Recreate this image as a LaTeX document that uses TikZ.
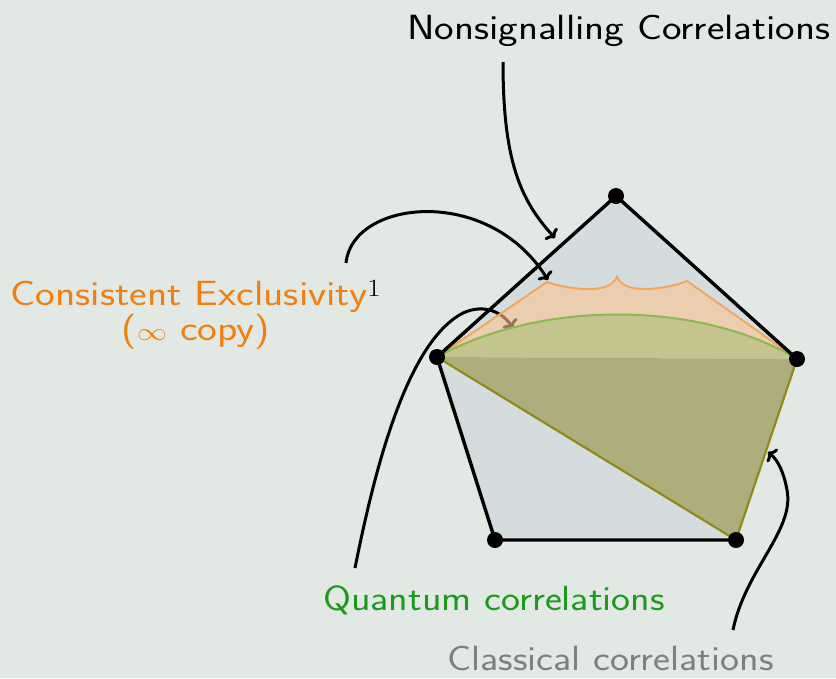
\documentclass[tikz,border=0pt]{standalone}
\usepackage{fontspec}
\usetikzlibrary{arrows.meta}
\definecolor{bg}{HTML}{E2E8E4}
\definecolor{pentfill}{HTML}{D5DCDD}
\definecolor{orfill}{RGB}{251,197,146}
\definecolor{orline}{HTML}{F0A860}
\definecolor{segfill}{HTML}{C4C48E}
\definecolor{trifill}{HTML}{B0AD7D}
\definecolor{triline}{HTML}{8E8A1C}
\definecolor{grline}{HTML}{8CB850}
\definecolor{ortext}{HTML}{F07F10}
\definecolor{grtext}{HTML}{1C9A1C}
\definecolor{gytext}{HTML}{7F7F7F}
\tikzset{
  lbl/.style={font=\sffamily\fontsize{35}{28}\selectfont, inner sep=0pt, anchor=base west},
  arr/.style={line width=3pt, -{To[length=7pt,width=17pt]}},
  edge/.style={line width=3.4pt, line join=round},
  vdot/.style={circle, fill=black, inner sep=0pt, minimum size=16pt}
}
\begin{document}
\begin{tikzpicture}[x=1pt,y=-1pt]
\useasboundingbox (0,0) rectangle (836,678);
\fill[bg] (0,0) rectangle (836,678);
% vertices
\coordinate (T) at (616,196);
\coordinate (L) at (437,357);
\coordinate (R) at (797,359);
\coordinate (BL) at (495,540);
\coordinate (BR) at (736,540);
\coordinate (P1) at (547,282);
\coordinate (C) at (617,276);
\coordinate (P2) at (687,281);
% pentagon fill
\fill[pentfill] (T) -- (R) -- (BR) -- (BL) -- (L) -- cycle;
% quantum arrow (under the orange overlay)
\coordinate (qs) at (355,568);
\coordinate (qm) at (463,313);
\coordinate (qe) at (513,328);
\draw[arr] (qs) .. controls (373,478) and (405,343) .. (qm) .. controls (485,303) and (503,313) .. (qe);
% orange region
\fill[orfill, fill opacity=0.6] (L) -- (P1) .. controls (570,290) and (612,295) .. (C) .. controls (622,295) and (664,290) .. (P2) -- (R) -- cycle;
\draw[orline, line width=2pt, line join=round] (L) -- (P1) .. controls (570,290) and (612,295) .. (C) .. controls (622,295) and (664,290) .. (P2) -- (R);
% quantum segment
\fill[segfill] (L) .. controls (540,300) and (700,300) .. (R) -- cycle;
\draw[grline, line width=2pt] (L) .. controls (540,300) and (700,300) .. (R);
% classical triangle
\fill[trifill] (L) -- (R) -- (BR) -- cycle;
% pentagon edges
\draw[edge] (BR) -- (BL) -- (L) -- (T) -- (R);
\draw[triline, line width=2.2pt] (L) -- (BR) -- (R);
% vertex dots
\foreach \v in {T,L,R,BL,BR} \node[vdot] at (\v) {};
% labels
\node[lbl] (ns) at (407,39) {\scalebox{1.186}[1]{Nonsignalling Correlations}};
\node[lbl, text=ortext, align=center, anchor=base] (ce) at (196,340) {\scalebox{1.2}[1]{Consistent Exclusivity$^{\color{black}1}$}\\\scalebox{1.2}[1]{($\infty$ copy)}};
\node[lbl, text=grtext] (qc) at (323,610) {\scalebox{1.153}[1]{Quantum correlations}};
\node[lbl, text=gytext] (cc) at (447,670) {\scalebox{1.152}[1]{Classical correlations}};
% other arrows
\coordinate (ns1) at (503,62);
\coordinate (ns2) at (555,238);
\draw[arr] (ns1) .. controls (503,160) and (520,200) .. (ns2);
\coordinate (ce1) at (346,263);
\coordinate (ce3) at (548,280);
\draw[arr] (ce1) .. controls (352,200) and (488,184) .. (ce3);
\coordinate (cl1) at (733,630);
\coordinate (clm) at (787,490);
\coordinate (cl2) at (768,452);
\draw[arr] (cl1) .. controls (745,570) and (795,530) .. (clm) .. controls (784,473) and (778,460) .. (cl2);
\end{tikzpicture}
\end{document}
